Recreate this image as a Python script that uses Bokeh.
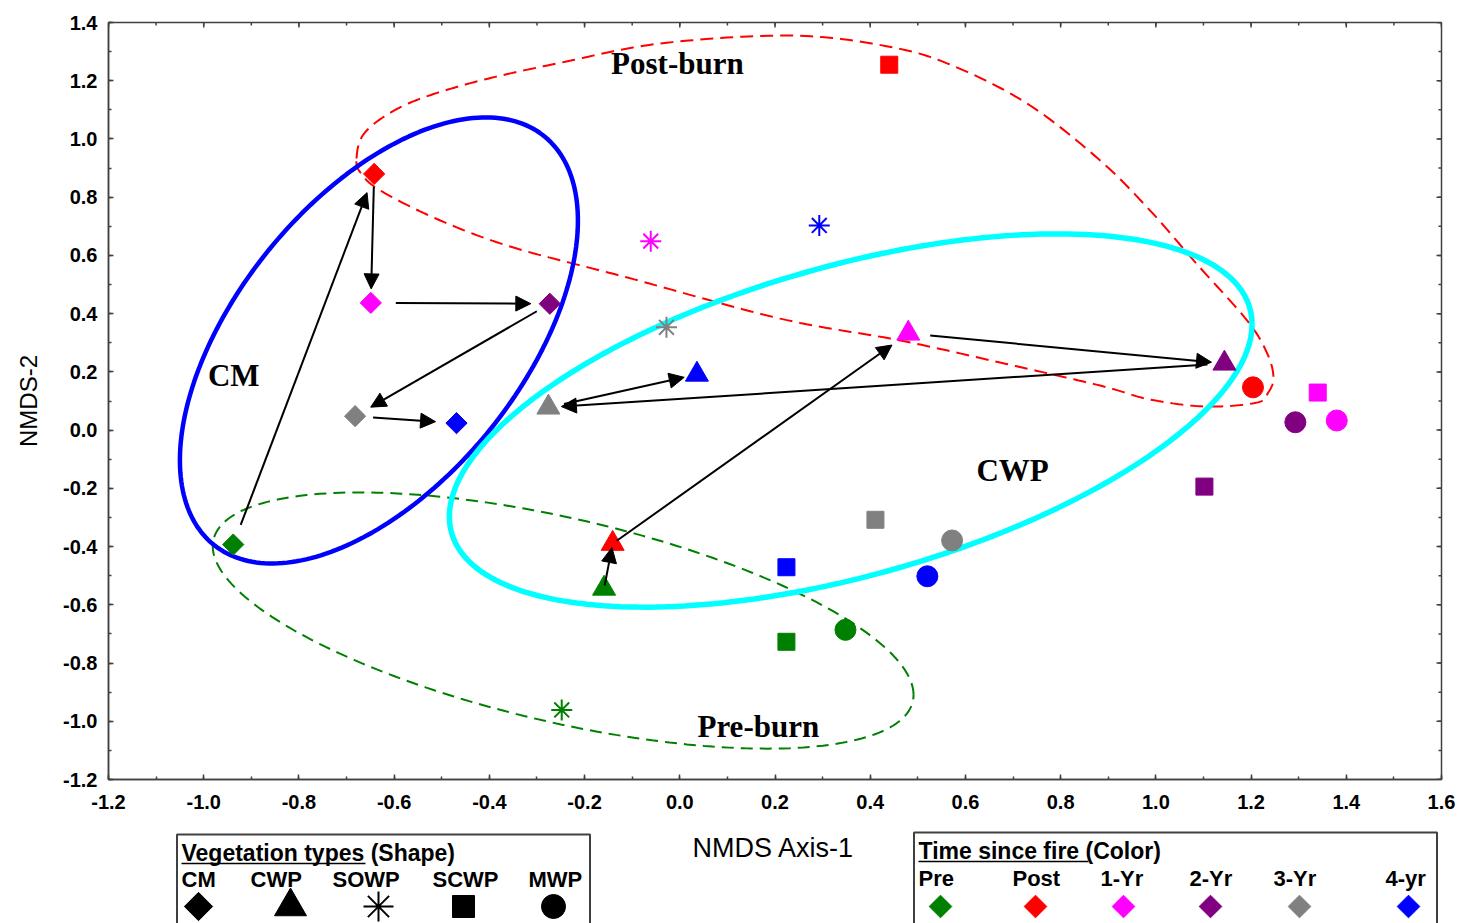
import numpy as np
from bokeh.plotting import figure
from bokeh.models import (Range1d, FixedTicker, PrintfTickFormatter,
                          Arrow, NormalHead, Spacer, ColumnDataSource)
from bokeh.layouts import column, row
from bokeh.embed import file_html
from bokeh.resources import INLINE
from bokeh.core.properties import value

# ---------------------------------------------------------------- data
times = ["Pre", "Post", "1-Yr", "2-Yr", "3-Yr", "4-yr"]
time_colors = ["#008000", "#FF0000", "#FF00FF", "#800080", "#808080", "#0000FF"]
veg_types = ["CM", "CWP", "SOWP", "SCWP", "MWP"]

# NMDS scores, one entry per time since fire (None = not sampled)
cm_x = [-0.938, -0.642, -0.649, -0.273, -0.682, -0.469]
cm_y = [-0.393, 0.880, 0.437, 0.434, 0.048, 0.024]
cwp_x = [-0.159, -0.141, 0.480, 1.144, -0.276, 0.036]
cwp_y = [-0.544, -0.390, 0.332, 0.229, 0.078, 0.191]
sowp_x = [-0.248, None, -0.061, None, -0.028, 0.293]
sowp_y = [-0.961, None, 0.649, None, 0.353, 0.703]
scwp_x = [0.224, 0.440, 1.340, 1.102, 0.411, 0.224]
scwp_y = [-0.727, 1.255, 0.129, -0.194, -0.308, -0.471]
mwp_x = [0.348, 1.204, 1.380, 1.293, 0.572, 0.520]
mwp_y = [-0.686, 0.147, 0.033, 0.027, -0.379, -0.502]

# group ellipses: centre, x/y spread and correlation
cm_ell = dict(cx=-0.632, cy=0.308, sx=0.418, sy=0.766, rho=0.537)
cwp_ell = dict(cx=0.359, cy=0.033, sx=0.843, sy=0.641, rho=0.515)
pre_ell = dict(cx=-0.245, cy=-0.654, sx=0.736, sy=0.440, rho=-0.58)

# hand-drawn outline around the post-burn samples
post_outline_x = [-0.679, -0.666, -0.618, -0.544, -0.418, -0.250, -0.040, 0.239,
                  0.449, 0.583, 0.736, 0.883, 0.988, 1.083, 1.192, 1.234, 1.247,
                  1.236, 1.213, 1.108, 0.988, 0.883, 0.673, 0.463, 0.211, -0.110,
                  -0.349, -0.503, -0.629, -0.671]
post_outline_y = [0.933, 1.012, 1.080, 1.139, 1.201, 1.262, 1.328, 1.355,
                  1.314, 1.245, 1.115, 0.926, 0.754, 0.576, 0.376, 0.263, 0.181,
                  0.129, 0.095, 0.081, 0.105, 0.153, 0.232, 0.308, 0.383, 0.524,
                  0.627, 0.720, 0.823, 0.885]

x_ticks = [-1.2, -1.0, -0.8, -0.6, -0.4, -0.2, 0.0, 0.2, 0.4, 0.6, 0.8, 1.0, 1.2, 1.4, 1.6]
y_ticks = [-1.2, -1.0, -0.8, -0.6, -0.4, -0.2, 0.0, 0.2, 0.4, 0.6, 0.8, 1.0, 1.2, 1.4]

# ---------------------------------------------------------------- layout
W, H = 1463, 830
BL, BR, BT, BB = 108, 22, 22, 51
X0, X1, Y0, Y1 = -1.2, 1.6, -1.2, 1.4
kx = (W - BL - BR) / (X1 - X0)   # px per x unit
ky = (H - BT - BB) / (Y1 - Y0)   # px per y unit

AX = "#404040"
SANS = value("Liberation Sans")
SERIF = value("Liberation Serif")

p = figure(width=W, height=H, x_range=Range1d(X0, X1), y_range=Range1d(Y0, Y1),
           output_backend="svg", toolbar_location=None,
           min_border_left=BL, min_border_right=BR, min_border_top=BT, min_border_bottom=BB)
p.grid.visible = False
p.outline_line_color = AX
p.outline_line_width = 1.5
p.background_fill_color = "white"
p.border_fill_color = "white"

minor_x = [round(X0 + 0.1 * i, 1) for i in range(29)]
minor_y = [round(Y0 + 0.1 * i, 1) for i in range(27)]


def style_axis(ax, standoff):
    ax.axis_line_color = AX
    ax.axis_line_width = 1.5
    ax.major_tick_line_color = AX
    ax.minor_tick_line_color = AX
    ax.major_tick_line_width = 1.5
    ax.minor_tick_line_width = 1.5
    ax.major_tick_in = 5
    ax.major_tick_out = 0
    ax.minor_tick_in = 3
    ax.minor_tick_out = 0
    ax.formatter = PrintfTickFormatter(format="%.1f")
    ax.major_label_text_font = "Liberation Sans"
    ax.major_label_text_font_style = "bold"
    ax.major_label_text_font_size = "20px"
    ax.major_label_text_color = "black"
    ax.major_label_standoff = standoff


p.xaxis.ticker = FixedTicker(ticks=x_ticks, minor_ticks=minor_x)
p.yaxis.ticker = FixedTicker(ticks=y_ticks, minor_ticks=minor_y)
style_axis(p.xaxis[0], 15)
style_axis(p.yaxis[0], 11)
p.yaxis.axis_label = "NMDS-2"
p.yaxis.axis_label_text_font = "Liberation Sans"
p.yaxis.axis_label_text_font_style = "normal"
p.yaxis.axis_label_text_font_size = "24px"
p.yaxis.axis_label_text_color = "black"
p.yaxis.axis_label_standoff = 18

# inward ticks along the top and right edges of the frame
p.ray(x=x_ticks, y=[Y1] * len(x_ticks), length=5, length_units="screen",
      angle=-np.pi / 2, line_color=AX, line_width=1.5)
p.ray(x=minor_x, y=[Y1] * len(minor_x), length=3, length_units="screen",
      angle=-np.pi / 2, line_color=AX, line_width=1.5)
p.ray(x=[X1] * len(y_ticks), y=y_ticks, length=5, length_units="screen",
      angle=np.pi, line_color=AX, line_width=1.5)
p.ray(x=[X1] * len(minor_y), y=minor_y, length=3, length_units="screen",
      angle=np.pi, line_color=AX, line_width=1.5)


# ---------------------------------------------------------------- outlines
def ellipse_path(e, n=240):
    t = np.linspace(0, 2 * np.pi, n)
    xs = e["cx"] + e["sx"] * np.cos(t)
    ys = e["cy"] + e["sy"] * (e["rho"] * np.cos(t) + np.sqrt(1 - e["rho"] ** 2) * np.sin(t))
    return xs, ys


def closed_spline(xs, ys, n=20):
    P = np.column_stack([xs, ys])
    m = len(P)
    out = []
    for i in range(m):
        p0, p1, p2, p3 = P[(i - 1) % m], P[i], P[(i + 1) % m], P[(i + 2) % m]
        for t in np.linspace(0, 1, n, endpoint=False):
            t2, t3 = t * t, t * t * t
            out.append(0.5 * ((2 * p1) + (-p0 + p2) * t + (2 * p0 - 5 * p1 + 4 * p2 - p3) * t2
                              + (-p0 + 3 * p1 - 3 * p2 + p3) * t3))
    out.append(out[0])
    out = np.array(out)
    return out[:, 0], out[:, 1]


ex, ey = closed_spline(post_outline_x, post_outline_y)
p.line(ex, ey, line_color="#FF0000", line_width=2, line_dash="13 7")
ex, ey = ellipse_path(pre_ell)
p.line(ex, ey, line_color="#008000", line_width=2, line_dash="12 7")
ex, ey = ellipse_path(cm_ell)
p.line(ex, ey, line_color="#0000FF", line_width=4.5)
ex, ey = ellipse_path(cwp_ell)
p.line(ex, ey, line_color="#00FFFF", line_width=5.5)


# ---------------------------------------------------------------- arrows
def arrow_segments(xs, ys, gaps):
    x0s, y0s, x1s, y1s = [], [], [], []
    for i, (g0, g1) in enumerate(gaps):
        xa, ya, xb, yb = xs[i], ys[i], xs[i + 1], ys[i + 1]
        dx, dy = (xb - xa) * kx, (yb - ya) * ky
        L = np.hypot(dx, dy)
        ux, uy = dx / L, dy / L
        x0s.append(xa + ux * g0 / kx)
        y0s.append(ya + uy * g0 / ky)
        x1s.append(xb - ux * g1 / kx)
        y1s.append(yb - uy * g1 / ky)
    return dict(x0=x0s, y0=y0s, x1=x1s, y1=y1s)


cm_gaps = [(21, 20), (13, 14), (25, 19), (15, 18), (18, 21)]
cwp_gaps = [(3, 4), (5, 20), (22, 13), (17, 13), (16, 13)]
for xs, ys, gaps in [(cm_x, cm_y, cm_gaps), (cwp_x, cwp_y, cwp_gaps)]:
    src = ColumnDataSource(arrow_segments(xs, ys, gaps))
    p.add_layout(Arrow(source=src, x_start="x0", y_start="y0", x_end="x1", y_end="y1",
                       line_color="black", line_width=2,
                       end=NormalHead(size=15, fill_color="black", line_color="black")))


# ---------------------------------------------------------------- samples
def plot_group(xs, ys, marker, size, **kw):
    keep = [i for i in range(len(xs)) if xs[i] is not None]
    src = ColumnDataSource(dict(x=[xs[i] for i in keep], y=[ys[i] for i in keep],
                                c=[time_colors[i] for i in keep]))
    p.scatter("x", "y", source=src, marker=marker, size=size, fill_color="c",
              line_color="c", **kw)


plot_group(cm_x, cm_y, "square", 15, angle=np.pi / 4)
plot_group(cwp_x, cwp_y, "triangle", 23)
plot_group(sowp_x, sowp_y, "asterisk", 21, line_width=2)
plot_group(scwp_x, scwp_y, "square", 17)
plot_group(mwp_x, mwp_y, "circle", 21)

# group labels
p.text(x=[-0.937, 0.699, -0.005, 0.165], y=[0.188, -0.139, 1.259, -1.018],
       text=["CM", "CWP", "Post-burn", "Pre-burn"], text_font=SERIF,
       text_font_style="bold", text_font_size="31px", text_color="black",
       text_align="center", text_baseline="middle")

# ---------------------------------------------------------------- bottom strip
SH = 923 - H


def blank(width):
    f = figure(width=width, height=SH, x_range=Range1d(0, width), y_range=Range1d(SH, 0),
               output_backend="svg", toolbar_location=None, min_border=0,
               x_axis_location=None, y_axis_location=None)
    f.grid.visible = False
    f.outline_line_color = None
    f.background_fill_color = "white"
    f.border_fill_color = "white"
    return f


def legend_box(width, title_parts, underline_end, label_x, labels, mark_x, marker_kw, title_y, label_y):
    f = blank(width)
    f.quad(left=[1.5], right=[width - 1.5], top=[title_y - 18], bottom=[SH + 40],
           fill_color=None, line_color=AX, line_width=2)
    f.text(x=[6], y=[title_y], text=[title_parts], text_font=SANS, text_font_style="bold",
           text_font_size="23px", text_color="black", text_align="left", text_baseline="middle")
    f.segment(x0=[6], y0=[title_y + 11], x1=[underline_end], y1=[title_y + 11],
              line_color="black", line_width=1.5)
    f.text(x=label_x, y=[label_y] * len(labels), text=labels, text_font=SANS,
           text_font_style="bold", text_font_size="22px", text_color="black",
           text_align="left", text_baseline="middle")
    for mx, kw in zip(mark_x, marker_kw):
        f.scatter([mx], [76], **kw)
    return f


veg_marks = [dict(marker="square", size=20, angle=np.pi / 4, color="black"),
             dict(marker="triangle", size=32, color="black"),
             dict(marker="asterisk", size=30, line_width=2, color="black"),
             dict(marker="square", size=22, color="black"),
             dict(marker="circle", size=24, color="black")]
leg1 = legend_box(416, "Vegetation types (Shape)", 190, [6, 75, 157, 257, 353], veg_types,
                  [23, 115, 203, 288, 378], veg_marks, 22, 49)

time_marks = [dict(marker="square", size=16, angle=np.pi / 4, color=c) for c in time_colors]
leg2 = legend_box(526, "Time since fire (Color)", 176, [6, 100, 188, 277, 361, 473], times,
                  [28, 123, 211, 298, 387, 496], time_marks, 20, 48)

mid = blank(321)
mid.text(x=[182], y=[17], text=["NMDS Axis-1"], text_font=SANS, text_font_size="27px",
         text_color="black", text_align="center", text_baseline="middle")

bottom = row(Spacer(width=175, height=SH), leg1, mid, leg2, Spacer(width=25, height=SH))
page = column(p, bottom)

open("out.html", "w").write(file_html(page, INLINE))
